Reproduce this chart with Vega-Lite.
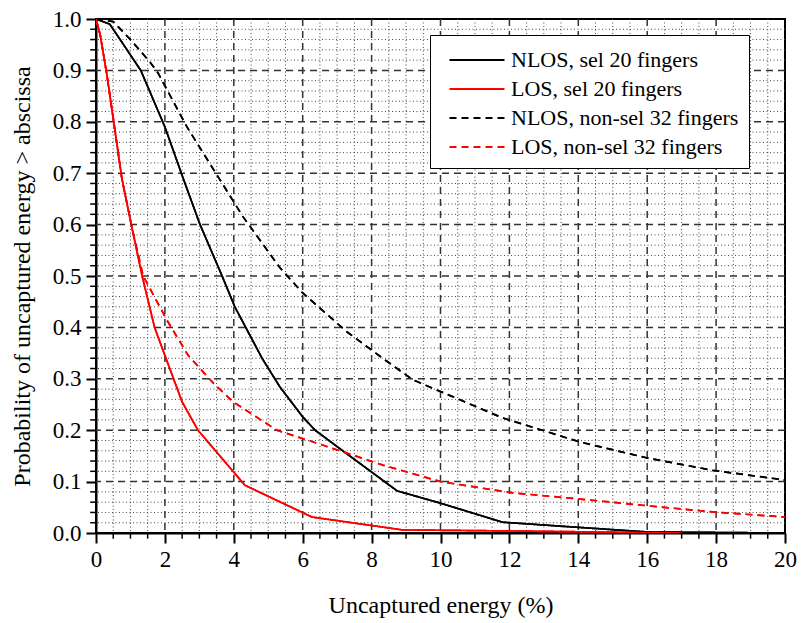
{
  "$schema": "https://vega.github.io/schema/vega-lite/v6.json",
  "width": 689,
  "height": 514,
  "autosize": "none",
  "padding": {"left": 96, "top": 19, "right": 17, "bottom": 90},
  "config": {
    "view": {"stroke": "black", "strokeWidth": 2}
  },
  "datasets": {
    "minorX": [{"v":0.5},{"v":1},{"v":1.5},{"v":2.5},{"v":3},{"v":3.5},{"v":4.5},{"v":5},{"v":5.5},{"v":6.5},{"v":7},{"v":7.5},{"v":8.5},{"v":9},{"v":9.5},{"v":10.5},{"v":11},{"v":11.5},{"v":12.5},{"v":13},{"v":13.5},{"v":14.5},{"v":15},{"v":15.5},{"v":16.5},{"v":17},{"v":17.5},{"v":18.5},{"v":19},{"v":19.5}],
    "majorX": [{"v":2},{"v":4},{"v":6},{"v":8},{"v":10},{"v":12},{"v":14},{"v":16},{"v":18}],
    "minorY": [{"v":0.02},{"v":0.04},{"v":0.06},{"v":0.08},{"v":0.12},{"v":0.14},{"v":0.16},{"v":0.18},{"v":0.22},{"v":0.24},{"v":0.26},{"v":0.28},{"v":0.32},{"v":0.34},{"v":0.36},{"v":0.38},{"v":0.42},{"v":0.44},{"v":0.46},{"v":0.48},{"v":0.52},{"v":0.54},{"v":0.56},{"v":0.58},{"v":0.62},{"v":0.64},{"v":0.66},{"v":0.68},{"v":0.72},{"v":0.74},{"v":0.76},{"v":0.78},{"v":0.82},{"v":0.84},{"v":0.86},{"v":0.88},{"v":0.92},{"v":0.94},{"v":0.96},{"v":0.98}],
    "majorY": [{"v":0.1},{"v":0.2},{"v":0.3},{"v":0.4},{"v":0.5},{"v":0.6},{"v":0.7},{"v":0.8},{"v":0.9}],
    "curves": [
      {"s": "NLOS, sel 20 fingers", "x": 0, "y": 1.0},
      {"s": "NLOS, sel 20 fingers", "x": 0.4, "y": 0.99},
      {"s": "NLOS, sel 20 fingers", "x": 0.9, "y": 0.94},
      {"s": "NLOS, sel 20 fingers", "x": 1.3, "y": 0.9},
      {"s": "NLOS, sel 20 fingers", "x": 2.0, "y": 0.79},
      {"s": "NLOS, sel 20 fingers", "x": 2.53, "y": 0.69},
      {"s": "NLOS, sel 20 fingers", "x": 3.02, "y": 0.6},
      {"s": "NLOS, sel 20 fingers", "x": 3.66, "y": 0.5},
      {"s": "NLOS, sel 20 fingers", "x": 4.03, "y": 0.44},
      {"s": "NLOS, sel 20 fingers", "x": 4.82, "y": 0.34},
      {"s": "NLOS, sel 20 fingers", "x": 5.34, "y": 0.284},
      {"s": "NLOS, sel 20 fingers", "x": 6.0, "y": 0.226},
      {"s": "NLOS, sel 20 fingers", "x": 6.36, "y": 0.2},
      {"s": "NLOS, sel 20 fingers", "x": 7.0, "y": 0.168},
      {"s": "NLOS, sel 20 fingers", "x": 8.74, "y": 0.082},
      {"s": "NLOS, sel 20 fingers", "x": 10.0, "y": 0.058},
      {"s": "NLOS, sel 20 fingers", "x": 11.8, "y": 0.021},
      {"s": "NLOS, sel 20 fingers", "x": 14.0, "y": 0.011},
      {"s": "NLOS, sel 20 fingers", "x": 16.0, "y": 0.002},
      {"s": "NLOS, sel 20 fingers", "x": 20.0, "y": 0.0},
      {"s": "LOS, sel 20 fingers", "x": 0, "y": 1.0},
      {"s": "LOS, sel 20 fingers", "x": 0.12, "y": 0.97},
      {"s": "LOS, sel 20 fingers", "x": 0.32, "y": 0.89},
      {"s": "LOS, sel 20 fingers", "x": 0.6, "y": 0.76},
      {"s": "LOS, sel 20 fingers", "x": 0.75, "y": 0.69},
      {"s": "LOS, sel 20 fingers", "x": 1.04, "y": 0.595},
      {"s": "LOS, sel 20 fingers", "x": 1.34, "y": 0.5},
      {"s": "LOS, sel 20 fingers", "x": 1.7, "y": 0.4},
      {"s": "LOS, sel 20 fingers", "x": 2.03, "y": 0.34},
      {"s": "LOS, sel 20 fingers", "x": 2.5, "y": 0.255},
      {"s": "LOS, sel 20 fingers", "x": 2.96, "y": 0.2},
      {"s": "LOS, sel 20 fingers", "x": 4.32, "y": 0.093},
      {"s": "LOS, sel 20 fingers", "x": 6.27, "y": 0.031},
      {"s": "LOS, sel 20 fingers", "x": 8.9, "y": 0.006},
      {"s": "LOS, sel 20 fingers", "x": 12.0, "y": 0.004},
      {"s": "LOS, sel 20 fingers", "x": 17.0, "y": 0.0},
      {"s": "NLOS, non-sel 32 fingers", "x": 0, "y": 1.0},
      {"s": "NLOS, non-sel 32 fingers", "x": 0.5, "y": 0.995},
      {"s": "NLOS, non-sel 32 fingers", "x": 1.0, "y": 0.96},
      {"s": "NLOS, non-sel 32 fingers", "x": 1.57, "y": 0.916},
      {"s": "NLOS, non-sel 32 fingers", "x": 1.8, "y": 0.895},
      {"s": "NLOS, non-sel 32 fingers", "x": 2.64, "y": 0.79},
      {"s": "NLOS, non-sel 32 fingers", "x": 3.6, "y": 0.687},
      {"s": "NLOS, non-sel 32 fingers", "x": 4.27, "y": 0.615},
      {"s": "NLOS, non-sel 32 fingers", "x": 5.34, "y": 0.516},
      {"s": "NLOS, non-sel 32 fingers", "x": 6.0, "y": 0.467},
      {"s": "NLOS, non-sel 32 fingers", "x": 7.29, "y": 0.391},
      {"s": "NLOS, non-sel 32 fingers", "x": 8.3, "y": 0.341},
      {"s": "NLOS, non-sel 32 fingers", "x": 9.2, "y": 0.298},
      {"s": "NLOS, non-sel 32 fingers", "x": 11.8, "y": 0.224},
      {"s": "NLOS, non-sel 32 fingers", "x": 14.05, "y": 0.177},
      {"s": "NLOS, non-sel 32 fingers", "x": 16.0, "y": 0.146},
      {"s": "NLOS, non-sel 32 fingers", "x": 17.9, "y": 0.122},
      {"s": "NLOS, non-sel 32 fingers", "x": 20.0, "y": 0.103},
      {"s": "LOS, non-sel 32 fingers", "x": 0, "y": 1.0},
      {"s": "LOS, non-sel 32 fingers", "x": 0.12, "y": 0.97},
      {"s": "LOS, non-sel 32 fingers", "x": 0.32, "y": 0.89},
      {"s": "LOS, non-sel 32 fingers", "x": 0.6, "y": 0.76},
      {"s": "LOS, non-sel 32 fingers", "x": 0.75, "y": 0.69},
      {"s": "LOS, non-sel 32 fingers", "x": 1.04, "y": 0.595},
      {"s": "LOS, non-sel 32 fingers", "x": 1.37, "y": 0.5},
      {"s": "LOS, non-sel 32 fingers", "x": 2.06, "y": 0.414},
      {"s": "LOS, non-sel 32 fingers", "x": 2.67, "y": 0.346},
      {"s": "LOS, non-sel 32 fingers", "x": 3.4, "y": 0.292},
      {"s": "LOS, non-sel 32 fingers", "x": 3.98, "y": 0.255},
      {"s": "LOS, non-sel 32 fingers", "x": 5.25, "y": 0.2},
      {"s": "LOS, non-sel 32 fingers", "x": 6.4, "y": 0.175},
      {"s": "LOS, non-sel 32 fingers", "x": 8.33, "y": 0.132},
      {"s": "LOS, non-sel 32 fingers", "x": 10.0, "y": 0.1},
      {"s": "LOS, non-sel 32 fingers", "x": 12.1, "y": 0.078},
      {"s": "LOS, non-sel 32 fingers", "x": 14.05, "y": 0.066},
      {"s": "LOS, non-sel 32 fingers", "x": 16.0, "y": 0.053},
      {"s": "LOS, non-sel 32 fingers", "x": 17.9, "y": 0.041},
      {"s": "LOS, non-sel 32 fingers", "x": 20.0, "y": 0.031}
    ]
  },
  "layer": [
    {
      "data": {"name": "curves"},
      "mark": {"type": "line", "strokeWidth": 1.7, "clip": true},
      "encoding": {
        "x": {
          "field": "x", "type": "quantitative",
          "scale": {"domain": [0, 20], "nice": false, "zero": false},
          "axis": {
            "values": [0,2,4,6,8,10,12,14,16,18,20],
            "grid": false,
            "domain": true, "domainColor": "black", "domainWidth": 2,
            "ticks": true, "tickSize": 10, "tickColor": "black", "tickWidth": 2,
            "labelFont": "Liberation Serif", "labelFontSize": 23, "labelColor": "black", "labelPadding": 5, "labelFlush": false,
            "title": "Uncaptured energy (%)", "titleFont": "Liberation Serif", "titleFontSize": 24, "titleFontWeight": "normal", "titleColor": "black", "titlePadding": 22
          }
        },
        "y": {
          "field": "y", "type": "quantitative",
          "scale": {"domain": [0, 1], "nice": false},
          "axis": {
            "values": [0,0.1,0.2,0.3,0.4,0.5,0.6,0.7,0.8,0.9,1.0],
            "format": ".1f",
            "grid": false,
            "domain": true, "domainColor": "black", "domainWidth": 2,
            "ticks": true, "tickSize": 10, "tickColor": "black", "tickWidth": 2,
            "labelFont": "Liberation Serif", "labelFontSize": 23, "labelColor": "black", "labelPadding": 5, "labelFlush": false,
            "title": "Probability of uncaptured energy > abscissa", "titleFont": "Liberation Serif", "titleFontSize": 24, "titleFontWeight": "normal", "titleColor": "black", "titlePadding": 18
          }
        },
        "color": {
          "field": "s", "type": "nominal",
          "scale": {
            "domain": ["NLOS, sel 20 fingers", "LOS, sel 20 fingers", "NLOS, non-sel 32 fingers", "LOS, non-sel 32 fingers"],
            "range": ["#000000", "#ff0000", "#000000", "#ff0000"]
          },
          "legend": {
            "title": null, "orient": "none", "legendX": 334, "legendY": 16,
            "symbolType": "M-0.4,0H3.6", "symbolSize": 756, "symbolStrokeWidth": 2,
            "labelFont": "Liberation Serif", "labelFontSize": 22, "labelColor": "black", "labelLimit": 400,
            "strokeColor": "black", "fillColor": "white", "padding": 10,
            "rowPadding": 3, "labelOffset": 41
          }
        },
        "strokeDash": {
          "field": "s", "type": "nominal",
          "scale": {
            "domain": ["NLOS, sel 20 fingers", "LOS, sel 20 fingers", "NLOS, non-sel 32 fingers", "LOS, non-sel 32 fingers"],
            "range": [[1, 0], [1, 0], [7, 5], [7, 5]]
          },
          "legend": null
        }
      }
    },
    {
      "data": {"name": "minorX"},
      "mark": {"type": "rule", "strokeDash": [1, 2.5], "color": "#444", "strokeWidth": 1},
      "encoding": {
        "x": {"field": "v", "type": "quantitative", "title": "Uncaptured energy (%)"}
      }
    },
    {
      "data": {"name": "minorY"},
      "mark": {"type": "rule", "strokeDash": [1, 2.5], "color": "#444", "strokeWidth": 1},
      "encoding": {
        "y": {"field": "v", "type": "quantitative", "title": "Probability of uncaptured energy > abscissa"}
      }
    },
    {
      "data": {"name": "majorX"},
      "mark": {"type": "rule", "strokeDash": [7, 5], "color": "#333", "strokeWidth": 1.5},
      "encoding": {
        "x": {"field": "v", "type": "quantitative", "title": "Uncaptured energy (%)"}
      }
    },
    {
      "data": {"name": "majorY"},
      "mark": {"type": "rule", "strokeDash": [7, 5], "color": "#333", "strokeWidth": 1.5},
      "encoding": {
        "y": {"field": "v", "type": "quantitative", "title": "Probability of uncaptured energy > abscissa"}
      }
    },
    {
      "data": {"name": "minorX"},
      "mark": {"type": "rule", "color": "black", "strokeWidth": 1.5},
      "encoding": {
        "x": {"field": "v", "type": "quantitative", "title": "Uncaptured energy (%)"},
        "y": {"datum": 0, "type": "quantitative"},
        "y2": {"datum": -0.011}
      }
    },
    {
      "data": {"name": "minorY"},
      "mark": {"type": "rule", "color": "black", "strokeWidth": 1.5},
      "encoding": {
        "y": {"field": "v", "type": "quantitative", "title": "Probability of uncaptured energy > abscissa"},
        "x": {"datum": 0, "type": "quantitative"},
        "x2": {"datum": -0.17}
      }
    },
    {
      "data": {"name": "curves"},
      "mark": {"type": "line", "strokeWidth": 1.7, "clip": true},
      "encoding": {
        "x": {"field": "x", "type": "quantitative", "title": "Uncaptured energy (%)"},
        "y": {"field": "y", "type": "quantitative", "title": "Probability of uncaptured energy > abscissa"},
        "color": {"field": "s", "type": "nominal"},
        "strokeDash": {"field": "s", "type": "nominal"}
      }
    }
  ]
}
